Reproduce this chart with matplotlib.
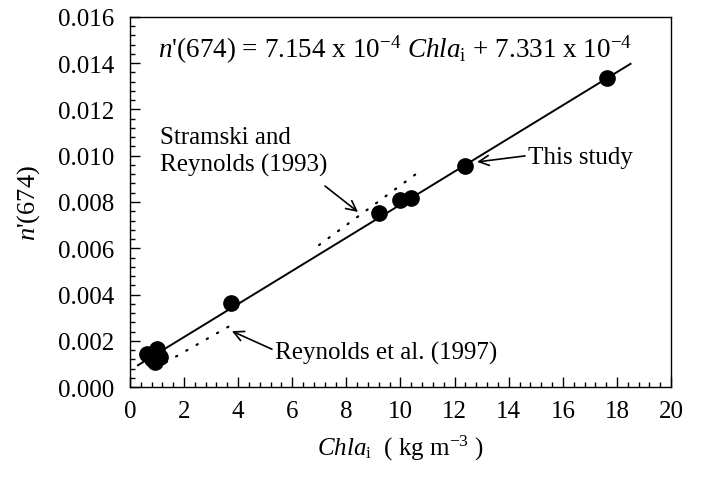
import numpy as np
import matplotlib
matplotlib.use("Agg")
import matplotlib.pyplot as plt
from matplotlib.ticker import MultipleLocator, FormatStrFormatter

plt.rcParams['font.family'] = ['Liberation Serif', 'DejaVu Serif']
plt.rcParams['mathtext.fontset'] = 'custom'
plt.rcParams['mathtext.rm'] = 'Liberation Serif'
plt.rcParams['mathtext.it'] = 'Liberation Serif:italic'

# Data
chla = [0.63, 0.80, 0.92, 1.0, 1.1, 3.73, 9.2, 10.0, 10.4, 12.4, 17.63]
n674 = [0.00143, 0.00122, 0.00108, 0.00164, 0.00130, 0.00363, 0.00752, 0.00810, 0.00817, 0.00956, 0.01336]

# Fit of this study
slope_this, icpt_this = 7.154e-4, 7.331e-4
fit_range = [0.3, 18.5]

# Literature relations (dotted)
slope_reyn, icpt_reyn = 6.65e-4, 1.9e-4
reyn_range = [0.95, 3.9]
slope_stra, icpt_stra = 8.56e-4, 1.57e-4
stra_range = [6.99, 10.7]

fig = plt.figure(figsize=(7.02, 4.81), dpi=100)
ax = fig.add_axes([0.185, 0.193, 0.771, 0.770])

xf = np.array(fit_range)
ax.plot(xf, slope_this * xf + icpt_this, color='black', lw=1.4, zorder=2)

xr = np.array(reyn_range)
ax.plot(xr, slope_reyn * xr + icpt_reyn, color='black', lw=1.6,
        linestyle=(0, (0.6, 4.7)), dash_capstyle='round', zorder=1)
xs = np.array(stra_range)
ax.plot(xs, slope_stra * xs + icpt_stra, color='black', lw=1.6,
        linestyle=(0, (0.6, 4.7)), dash_capstyle='round', zorder=1)

ax.plot(chla, n674, 'o', color='black', markersize=11, zorder=3)

ax.set_xlim(0, 20)
ax.set_ylim(0, 0.016)
ax.xaxis.set_major_locator(MultipleLocator(2))
ax.xaxis.set_minor_locator(MultipleLocator(0.4))
ax.yaxis.set_major_locator(MultipleLocator(0.002))
ax.yaxis.set_minor_locator(MultipleLocator(0.0004))
ax.yaxis.set_major_formatter(FormatStrFormatter('%.3f'))
ax.tick_params(which='both', direction='in', top=False, right=False, width=1)
ax.tick_params(which='major', length=7, labelsize=18)
ax.tick_params(axis='y', which='major', pad=11)
ax.tick_params(axis='x', which='major', pad=9)
ax.tick_params(which='minor', length=3.5)
for s in ax.spines.values():
    s.set_linewidth(1.0)

ax.set_xlabel(r"$\mathit{Chla}_{\mathrm{i}}$  ( kg m$^{-3}$ )", fontsize=18, labelpad=8)
ax.set_ylabel(r"$n$'(674)", fontsize=19, labelpad=12)

ax.text(1.03, 0.0146,
        r"$n$'(674) = 7.154 x 10$^{-4}$ $\mathit{Chla}_{\mathrm{i}}$ + 7.331 x 10$^{-4}$",
        fontsize=19.5, va='center', ha='left')

ap = dict(arrowstyle='->', color='black', lw=1.2, mutation_scale=18, shrinkA=0, shrinkB=0)

ax.text(14.72, 0.00993, "This study", fontsize=18, va='center', ha='left')
ax.annotate("", xy=(12.83, 0.00973), xytext=(14.6, 0.00999), arrowprops=ap)

ax.text(1.1, 0.0102, "Stramski and\nReynolds (1993)", fontsize=18, va='center', ha='left',
        linespacing=1.25)
ax.annotate("", xy=(8.43, 0.00757), xytext=(7.21, 0.00869), arrowprops=ap)

ax.text(5.36, 0.00151, "Reynolds et al. (1997)", fontsize=18, va='center', ha='left')
ax.annotate("", xy=(3.77, 0.00242), xytext=(5.25, 0.00164), arrowprops=ap)

fig.savefig("out.png", dpi=100)
